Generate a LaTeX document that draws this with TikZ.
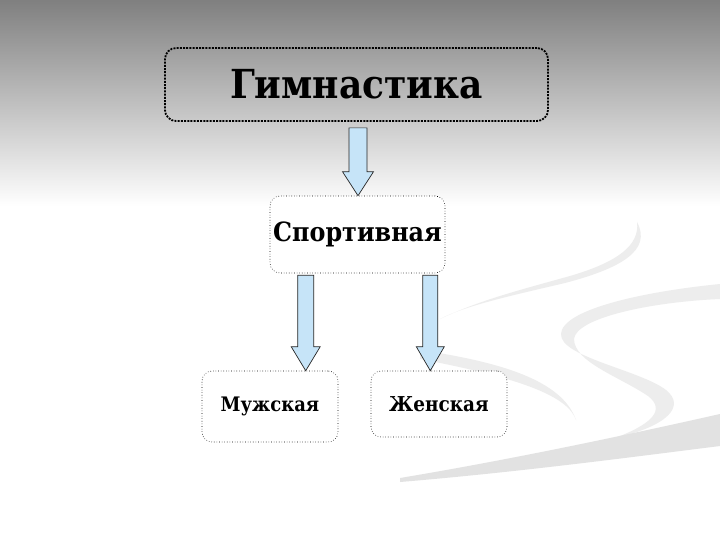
\documentclass[tikz,border=0pt]{standalone}
\usepackage{fontspec}
\setmainfont{DejaVu Serif Condensed}
\usetikzlibrary{calc}
\definecolor{arrowblue}{HTML}{C6E4F8}
\definecolor{swoosh}{HTML}{EDEDED}
\definecolor{swooshd}{HTML}{E2E2E2}
\tikzset{
  topbox/.style={draw=black, line width=1.8pt, dash pattern=on 2pt off 1.2pt, rounded corners=11pt, inner sep=0pt, font=\bfseries\fontsize{40}{44}\selectfont},
  subbox/.style={draw=black, fill=white, line width=0.6pt, dotted, rounded corners=10pt, inner sep=0pt},
  arrowst/.style={fill=arrowblue, draw=black!85, line width=0.7pt, line join=miter},
}
\newcommand\barrow[3]{%
  \filldraw[arrowst] let \p1=#1, \p2=#2 in
    (\x1-#3,\y1) -- (\x1+#3,\y1) -- (\x1+#3,\y2+24pt) -- (\x1+#3+6.5pt,\y2+24pt)
    -- (\x1,\y2) -- (\x1-#3-6.5pt,\y2+24pt) -- (\x1-#3,\y2+24pt) -- cycle;}
\begin{document}
\begin{tikzpicture}[x=1pt,y=-1pt]
\useasboundingbox (0,0) rectangle (720,540);
% background
\fill[white] (0,0) rectangle (720,540);
\shade[top color=black!50, bottom color=white] (0,0) rectangle (720,206);
% swooshes
\fill[swoosh] (637,222) .. controls (652,250) and (622,268) .. (565,283)
  .. controls (505,297) and (465,306) .. (440,319)
  .. controls (480,300) and (520,290) .. (570,276)
  .. controls (618,262) and (640,245) .. (637,222) -- cycle;
\fill[swoosh] (720,284) .. controls (640,292) and (562,310) .. (561,334)
  .. controls (560,357) and (640,370) .. (666,390)
  .. controls (686,406) and (668,426) .. (615,438)
  .. controls (652,424) and (666,410) .. (648,396)
  .. controls (620,377) and (574,362) .. (574,339)
  .. controls (576,318) and (650,302) .. (720,299) -- cycle;
\fill[swoosh] (420,350) .. controls (500,362) and (562,380) .. (576,420)
  .. controls (568,396) and (520,378) .. (420,359) -- cycle;
\fill[swooshd] (400,478) .. controls (520,458) and (640,432) .. (720,414)
  -- (720,446) .. controls (640,456) and (520,472) .. (400,482) -- cycle;
% boxes
\node[topbox, minimum width=383pt, minimum height=73pt] (gym) at (356.5,84.5) {Гимнастика};
\node[subbox, minimum width=175pt, minimum height=77pt, font=\bfseries\fontsize{26.5}{30}\selectfont] (sport) at (357.5,234.5) {Спортивная};
\node[subbox, minimum width=136pt, minimum height=71pt, font=\bfseries\fontsize{20}{24}\selectfont] (men) at (270,406.5) {Мужская};
\node[subbox, minimum width=136pt, minimum height=66pt, font=\bfseries\fontsize{20.5}{24}\selectfont] (women) at (439,404) {Женская};
% arrows
\coordinate (a0) at ($(gym.south)+(1.5,6)$);
\coordinate (a1) at ($(sport.south west)+(36,2)$);
\coordinate (a2) at ($(sport.south east)+(-15,2)$);
\barrow{(a0)}{(a0 |- sport.north)}{9pt}
\barrow{(a1)}{(a1 |- men.north)}{8pt}
\barrow{(a2)}{(a2 |- women.north)}{7.5pt}
\end{tikzpicture}
\end{document}
